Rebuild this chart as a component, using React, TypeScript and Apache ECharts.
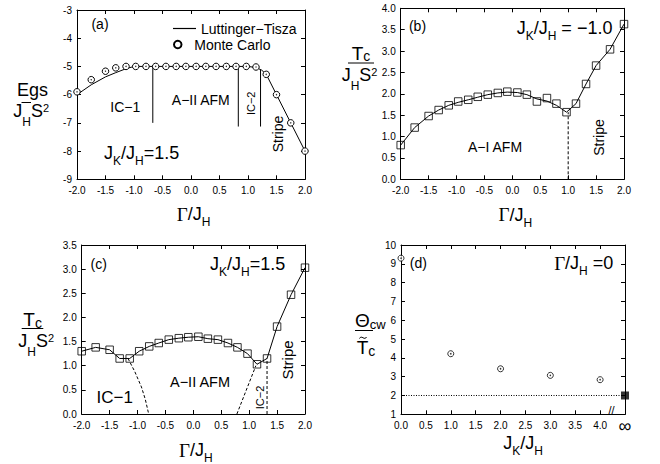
import React, { useEffect, useRef } from "react";
import * as echarts from "echarts";

// ---------- data ----------
// Γ/J_H sampling points shared by panels (a), (b), (c)
const gammaPts = [-2, -1.75, -1.5, -1.32, -1.14, -0.97, -0.79, -0.62, -0.44, -0.26, -0.09, 0.09, 0.26, 0.44, 0.62, 0.79, 0.97, 1.14, 1.32, 1.5, 1.75, 2];

// (a) ground-state energy
const mcEnergyA = [-5.9, -5.47, -5.17, -5.05, -5.0, -5.0, -5.0, -5.0, -5.0, -5.0, -5.0, -5.0, -5.0, -5.0, -5.0, -5.0, -5.0, -5.02, -5.28, -6.0, -7.0, -8.0];
const ltGammaA = [-2, -1.75, -1.5, -1.32, -1.14, -1.0, 1.0, 1.14, 1.24, 1.32, 2];
const ltEnergyA = [-6.0, -5.65, -5.37, -5.22, -5.08, -5.0, -5.0, -5.04, -5.13, -5.28, -8.0];
const boundaryGammaA = [-0.67, 0.83, 1.22];
const boundaryTopA = [-5.0, -5.0, -5.12];
const boundaryBottomA = [-7.0, -7.13, -7.13];

// (b) Tc for JK/JH = -1.0
const tcB = [0.8, 1.21, 1.48, 1.62, 1.73, 1.82, 1.86, 1.93, 1.98, 2.02, 2.05, 2.03, 1.98, 1.82, 1.9, 1.77, 1.57, 1.77, 2.23, 2.66, 3.04, 3.63];
const tcLineB = [0.8, 1.21, 1.48, 1.62, 1.73, 1.8, 1.86, 1.92, 1.98, 2.02, 2.04, 2.03, 1.98, 1.88, 1.83, 1.73, 1.57, 1.77, 2.23, 2.66, 3.04, 3.63];
const boundaryGammaB = [1.0, 1.0];
const boundaryTcB = [0, 1.57];

// (c) Tc for JK/JH = 1.5
const tcC = [1.3, 1.38, 1.33, 1.15, 1.15, 1.3, 1.4, 1.47, 1.54, 1.57, 1.59, 1.6, 1.56, 1.54, 1.47, 1.38, 1.25, 1.03, 1.15, 1.81, 2.47, 3.03];
const ic1GammaC = [-1.17, -1.05, -0.93, -0.86, -0.8];
const ic1TcC = [1.15, 0.88, 0.56, 0.3, 0];
const ic2LeftGammaC = [0.78, 1.12];
const ic2LeftTcC = [0, 1.0];
const ic2RightGammaC = [1.32, 1.32];
const ic2RightTcC = [0, 1.15];

// (d) Θcw / T̃c vs JK/JH
const jkRatio = [0, 1, 2, 3, 4];
const thetaRatio = [9.3, 4.22, 3.42, 3.07, 2.84];
const infinityJk = [4.5];
const infinityRatio = [2.0];
const dottedJk = [0, 4.5];
const dottedRatio = [2.0, 2.0];

// ---------- helpers ----------
const SANS = "'Liberation Sans', Arial, Helvetica, sans-serif";
const SERIF = "'Liberation Serif', 'Times New Roman', serif";
const zip = (xs: number[], ys: number[]) => xs.map((x, i) => [x, ys[i]]);

const grids = [
  { left: 77, top: 10, width: 228, height: 169.3 },
  { left: 400.7, top: 8.3, width: 223.3, height: 171 },
  { left: 81.7, top: 245, width: 223.3, height: 169 },
  { left: 401, top: 245, width: 224, height: 169.3 },
];

const fmt1 = (v: number) => v.toFixed(1);
const fmt0 = (v: number) => String(Math.round(v));

function axisPair(kind: "x" | "y", gi: number, min: number, max: number, interval: number, formatter: any, rich?: any) {
  const common = {
    type: "value",
    gridIndex: gi,
    min,
    max,
    interval,
    splitLine: { show: false },
    axisLine: { show: true, onZero: false, lineStyle: { color: "#000", width: 1 } },
    axisTick: { show: true, inside: true, length: 4, lineStyle: { color: "#000", width: 1 } },
  };
  const main = {
    ...common,
    position: kind === "x" ? "bottom" : "left",
    axisLabel: {
      show: true,
      color: "#000",
      fontSize: 10,
      fontFamily: SANS,
      margin: kind === "x" ? 6 : 5,
      formatter,
      rich,
      showMinLabel: true,
      showMaxLabel: true,
    },
  };
  const mirror = {
    ...common,
    position: kind === "x" ? "top" : "right",
    axisLabel: { show: false },
  };
  return [main, mirror];
}

const black = "#000";

function lineSeries(ai: number, data: number[][], dash?: any, name?: string) {
  return {
    type: "line",
    name,
    xAxisIndex: ai,
    yAxisIndex: ai,
    data,
    symbol: "none",
    silent: true,
    clip: false,
    z: 2,
    lineStyle: { color: black, width: 1, type: dash || "solid" },
    itemStyle: { color: black },
  };
}

let measureCtx: CanvasRenderingContext2D | null = null;
function textWidth(t: string, size: number, family: string) {
  if (!measureCtx) measureCtx = document.createElement("canvas").getContext("2d");
  if (!measureCtx) return t.length * size * 0.55;
  measureCtx.font = `${size}px ${family}`;
  return measureCtx.measureText(t).width;
}

type Piece = { t: string; size: number; dy?: number; family?: string };
// lay out several text pieces (main text, sub/superscripts) left to right
function compose(x: number, y: number, pieces: Piece[], align: "left" | "center" | "right" = "left") {
  const widths = pieces.map((p) => textWidth(p.t, p.size, p.family || SANS));
  const total = widths.reduce((a, b) => a + b, 0);
  let cx = align === "left" ? x : align === "center" ? x - total / 2 : x - total;
  return pieces.map((p, i) => {
    const el = {
      type: "text",
      x: cx,
      y: y + (p.dy || 0),
      silent: true,
      style: {
        text: p.t,
        fill: "#000",
        font: `${p.size}px ${p.family || SANS}`,
        align: "left",
        verticalAlign: "middle",
      },
    };
    cx += widths[i];
    return el;
  });
}

function txt(x: number, y: number, text: string, size: number, rotation = 0) {
  return {
    type: "text",
    x,
    y,
    rotation,
    silent: true,
    style: { text, fill: "#000", font: `${size}px ${SANS}`, align: "center", verticalAlign: "middle" },
  };
}

function hline(x1: number, x2: number, y: number) {
  return { type: "line", silent: true, shape: { x1, y1: y, x2, y2: y }, style: { stroke: "#000", lineWidth: 1 } };
}

// J_K/J_H style ratio text
const ratioPieces = (tail: string): Piece[] => [
  { t: "J", size: 18 },
  { t: "K", size: 12, dy: 8 },
  { t: "/J", size: 18 },
  { t: "H", size: 12, dy: 8 },
  { t: tail, size: 18 },
];
const denomPieces: Piece[] = [
  { t: "J", size: 18 },
  { t: "H", size: 12, dy: 11 },
  { t: "S", size: 18 },
  { t: "2", size: 11, dy: -3 },
];
const gammaPieces: Piece[] = [
  { t: "Γ", size: 19, family: SERIF },
  { t: "/J", size: 18 },
  { t: "H", size: 12, dy: 8 },
];
const tcPieces: Piece[] = [
  { t: "T", size: 19 },
  { t: "c", size: 14, dy: 3 },
];

export default function App() {
  const ref = useRef<HTMLDivElement>(null);
  useEffect(() => {
    if (!ref.current) return;
    const chart = echarts.init(ref.current, undefined, { renderer: "svg" });

    const xAxis = [
      ...axisPair("x", 0, -2, 2, 0.5, fmt1),
      ...axisPair("x", 1, -2, 2, 0.5, fmt1),
      ...axisPair("x", 2, -2, 2, 0.5, fmt1),
      ...axisPair("x", 3, 0, 4.5, 0.5, (v: number) => (Math.abs(v - 4.5) < 1e-9 ? "{inf|∞}" : v.toFixed(1)), {
        inf: { fontSize: 18, lineHeight: 11, fontFamily: SANS, color: "#000" },
      }),
    ];
    const yAxis = [
      ...axisPair("y", 0, -9, -3, 1, fmt0),
      ...axisPair("y", 1, 0, 4, 0.5, fmt1),
      ...axisPair("y", 2, 0, 3.5, 0.5, fmt1),
      ...axisPair("y", 3, 1, 10, 1, fmt0),
    ];
    // main axis indices: 0,2,4,6 ; mirrors 1,3,5,7
    const series: any[] = [];

    // (a)
    series.push(lineSeries(0, zip(ltGammaA, ltEnergyA), undefined, "Luttinger−Tisza"));
    boundaryGammaA.forEach((g, i) => {
      series.push(lineSeries(0, [[g, boundaryTopA[i]], [g, boundaryBottomA[i]]]));
    });
    series.push({
      type: "scatter",
      name: "Monte Carlo",
      xAxisIndex: 0,
      yAxisIndex: 0,
      data: zip(gammaPts, mcEnergyA),
      symbol: "circle",
      symbolSize: 6.5,
      clip: false,
      z: 3,
      silent: true,
      itemStyle: { color: "#fff", borderColor: black, borderWidth: 1, opacity: 1 },
    });
    series.push({
      type: "scatter",
      xAxisIndex: 0,
      yAxisIndex: 0,
      data: zip(gammaPts, mcEnergyA),
      symbol: "circle",
      symbolSize: 1.4,
      clip: false,
      z: 4,
      silent: true,
      itemStyle: { color: black },
    });

    // (b)
    series.push(lineSeries(2, zip(gammaPts, tcLineB)));
    series.push(lineSeries(2, zip(boundaryGammaB, boundaryTcB), [3, 2]));
    series.push({
      type: "scatter",
      xAxisIndex: 2,
      yAxisIndex: 2,
      data: zip(gammaPts, tcB),
      symbol: "rect",
      symbolSize: 7.5,
      clip: false,
      z: 3,
      silent: true,
      itemStyle: { color: "rgba(255,255,255,0)", borderColor: black, borderWidth: 1 },
    });

    // (c)
    series.push(lineSeries(4, zip(gammaPts, tcC)));
    series.push(lineSeries(4, zip(ic1GammaC, ic1TcC), [3, 2]));
    series.push(lineSeries(4, zip(ic2LeftGammaC, ic2LeftTcC), [3, 2]));
    series.push(lineSeries(4, zip(ic2RightGammaC, ic2RightTcC), [3, 2]));
    series.push({
      type: "scatter",
      xAxisIndex: 4,
      yAxisIndex: 4,
      data: zip(gammaPts, tcC),
      symbol: "rect",
      symbolSize: 7.5,
      clip: false,
      z: 3,
      silent: true,
      itemStyle: { color: "rgba(255,255,255,0)", borderColor: black, borderWidth: 1 },
    });

    // (d)
    series.push(lineSeries(6, zip(dottedJk, dottedRatio), [1, 1.5]));
    series.push({
      type: "scatter",
      xAxisIndex: 6,
      yAxisIndex: 6,
      data: zip(jkRatio, thetaRatio),
      symbol: "circle",
      symbolSize: 6,
      clip: false,
      z: 3,
      silent: true,
      itemStyle: { color: "#fff", borderColor: black, borderWidth: 1 },
    });
    series.push({
      type: "scatter",
      xAxisIndex: 6,
      yAxisIndex: 6,
      data: zip(jkRatio, thetaRatio),
      symbol: "circle",
      symbolSize: 1.6,
      clip: false,
      z: 4,
      silent: true,
      itemStyle: { color: black },
    });
    series.push({
      type: "scatter",
      xAxisIndex: 6,
      yAxisIndex: 6,
      data: zip(infinityJk, infinityRatio),
      symbol: "rect",
      symbolSize: 8,
      clip: false,
      z: 4,
      silent: true,
      itemStyle: { color: black },
    });

    const graphic: any[] = [
      // (a)
      txt(100, 23.5, "(a)", 14),
      txt(125.3, 106.5, "IC−1", 14),
      txt(200.8, 100, "A−II AFM", 14),
      txt(250.5, 103.3, "IC−2", 11, Math.PI / 2),
      txt(277.5, 134, "Stripe", 14, Math.PI / 2),
      ...compose(104, 153, ratioPieces("=1.5")),
      ...compose(32.5, 89.7, [{ t: "Egs", size: 18 }], "center"),
      hline(21.5, 31, 102.5),
      ...compose(13.3, 111.3, denomPieces),
      ...compose(176.7, 214, gammaPieces),
      // (b)
      txt(417.5, 25.8, "(b)", 14),
      ...compose(516.7, 27.5, ratioPieces(" = −1.0")),
      txt(495, 146.7, "A−I AFM", 14),
      txt(599, 137.5, "Stripe", 14, Math.PI / 2),
      ...compose(351.7, 53, tcPieces),
      hline(348, 374, 63),
      ...compose(341.7, 74.5, denomPieces),
      ...compose(498.5, 214.5, gammaPieces),
      // (c)
      txt(98.7, 264, "(c)", 14),
      ...compose(210, 264, ratioPieces("=1.5")),
      txt(114.7, 397.5, "IC−1", 17),
      txt(200, 381.7, "A−II AFM", 14.5),
      txt(260, 397.5, "IC−2", 11, Math.PI / 2),
      txt(287.5, 360, "Stripe", 15, Math.PI / 2),
      ...compose(23.3, 319.5, tcPieces),
      hline(21.7, 43.3, 328.5),
      ...compose(18.3, 340.5, denomPieces),
      ...compose(179, 450, gammaPieces),
      // (d)
      txt(418.3, 262.5, "(d)", 14),
      ...compose(613.3, 263, [
        { t: "Γ", size: 19, family: SERIF },
        { t: "/J", size: 18 },
        { t: "H", size: 12, dy: 8 },
        { t: " =0", size: 18 },
      ], "right"),
      ...compose(355, 320, [{ t: "Θ", size: 19 }, { t: "cw", size: 13, dy: 4 }]),
      hline(355, 373, 330.5),
      {
        type: "bezierCurve",
        silent: true,
        shape: { x1: 359.5, y1: 338.5, x2: 366.5, y2: 337, cpx1: 361.5, cpy1: 334.5, cpx2: 364.5, cpy2: 341 },
        style: { stroke: "#000", lineWidth: 1, fill: "none" },
      },
      ...compose(356.7, 347.5, [{ t: "T", size: 19 }, { t: "c", size: 14, dy: 3 }]),
      ...compose(503.3, 443, [
        { t: "J", size: 18 },
        { t: "K", size: 12, dy: 8 },
        { t: "/J", size: 18 },
        { t: "H", size: 12, dy: 8 },
      ]),
      txt(611.5, 409.5, "//", 11),
    ];

    chart.setOption({
      animation: false,
      backgroundColor: "#fff",
      textStyle: { fontFamily: SANS },
      grid: grids.map((g) => ({ ...g, show: false, containLabel: false })),
      xAxis,
      yAxis,
      legend: [
        {
          data: [{ name: "Luttinger−Tisza", icon: "rect" }],
          left: 168,
          top: 16.5,
          itemWidth: 23,
          itemHeight: 1.2,
          selectedMode: false,
          itemStyle: { color: "#000", borderWidth: 0 },
          textStyle: { fontSize: 14, fontFamily: SANS, color: "#000" },
        },
        {
          data: [{ name: "Monte Carlo", icon: "circle" }],
          left: 168,
          top: 32.5,
          itemWidth: 23,
          itemHeight: 7.5,
          selectedMode: false,
          textStyle: { fontSize: 14, fontFamily: SANS, color: "#000" },
        },
      ],
      series,
      graphic,
    });
    return () => chart.dispose();
  }, []);
  return (
    <div
      ref={ref}
      style={{ position: "absolute", left: 0, top: 0, width: 660, height: 464, background: "#fff" }}
    />
  );
}
